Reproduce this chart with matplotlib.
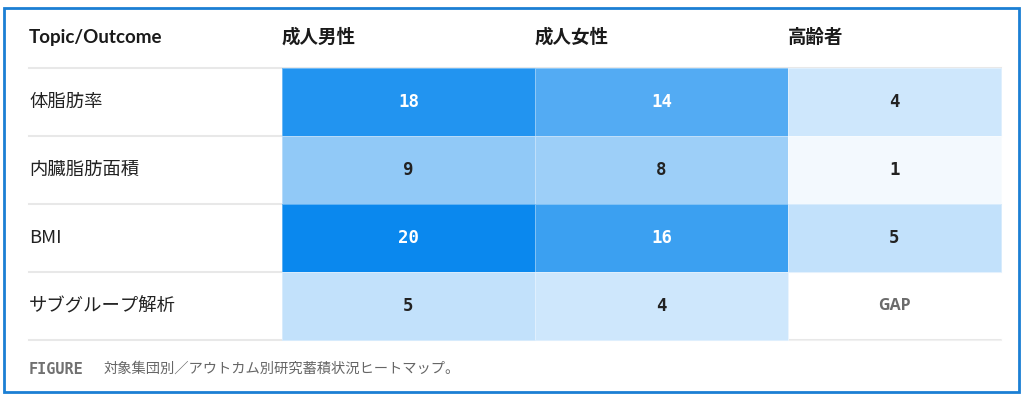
import numpy as np
import matplotlib.pyplot as plt
from matplotlib.colors import LinearSegmentedColormap
from matplotlib.patches import Rectangle

plt.rcParams['font.family'] = ['Noto Sans CJK JP', 'DejaVu Sans']

# data
groups = ['成人男性', '成人女性', '高齢者']
topics = ['体脂肪率', '内臓脂肪面積', 'BMI', 'サブグループ解析']
men = [18, 9, 20, 5]
women = [14, 8, 16, 4]
elderly = [4, 1, 5, np.nan]   # nan = GAP
caption = '対象集団別／アウトカム別研究蓄積状況ヒートマップ。'

# layout (pixels)
W, H = 1025, 398
col_edges = [282, 535, 788, 1001]
row_edges = [68, 136, 204, 272, 340]
left = 29

vals = np.array([men, women, elderly], dtype=float).T
cmap = LinearSegmentedColormap.from_list('blu', ['#ffffff', '#0a88ee'])

fig = plt.figure(figsize=(W / 100, H / 100), dpi=100)
ax = fig.add_axes([0, 0, 1, 1])
ax.set_xlim(0, W)
ax.set_ylim(H, 0)
ax.axis('off')

# separators
for y in row_edges:
    ax.plot([left, col_edges[-1]], [y, y], color='#e8e8e8', lw=1.5, zorder=1)

ax.pcolormesh(col_edges, row_edges, np.ma.masked_invalid(vals), cmap=cmap,
              vmin=0, vmax=20, edgecolors=(1, 1, 1, 0.35), linewidth=0.6, zorder=2)

# header
ax.text(left, 37, 'Topic/Outcome', family=['Lato', 'DejaVu Sans'], fontweight='bold',
        fontsize=13.5, color='#1a1a1a', va='center', ha='left')
for j, g in enumerate(groups):
    ax.text(col_edges[j], 37, g, fontweight='bold', fontsize=13.3, color='#1a1a1a',
            va='center', ha='left')

# rows
for i, t in enumerate(topics):
    yc = (row_edges[i] + row_edges[i + 1]) / 2
    ax.text(left, yc, t, fontsize=13.2, color='#222222', va='center', ha='left')
    for j in range(len(groups)):
        xc = (col_edges[j] + col_edges[j + 1]) / 2
        v = vals[i, j]
        if np.isnan(v):
            ax.text(xc, yc, 'GAP', family=['Open Sans', 'DejaVu Sans'], fontweight='bold',
                    fontsize=11.5, color='#6b6b6b', va='center', ha='center', zorder=3)
        else:
            ax.text(xc, yc, str(int(v)), family='DejaVu Sans Mono', fontweight='bold',
                    fontsize=12.5, color='white' if v >= 14 else '#222222',
                    va='center', ha='center', zorder=3)

# caption
ax.text(left, 369, 'FIGURE', family='DejaVu Sans Mono', fontweight='bold',
        fontsize=11, color='#707070', va='center', ha='left')
ax.text(104, 369, caption, fontsize=10.3, color='#666666', va='center', ha='left')

# frame
ax.add_patch(Rectangle((4, 8), 1015, 384, fill=False, edgecolor='#1b7fd4', lw=2, zorder=5))

fig.savefig('out.png', dpi=100)
